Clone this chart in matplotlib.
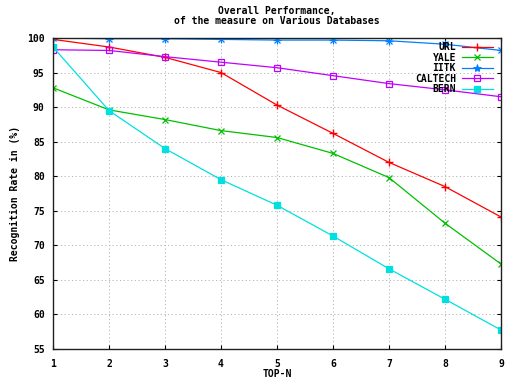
import matplotlib
matplotlib.use("Agg")
import matplotlib.pyplot as plt
from matplotlib.lines import Line2D

top_n = [1, 2, 3, 4, 5, 6, 7, 8, 9]
url = [99.8, 98.7, 97.2, 95.0, 90.3, 86.2, 82.0, 78.5, 74.1]
yale = [92.8, 89.6, 88.2, 86.6, 85.6, 83.3, 79.8, 73.2, 67.3]
iitk = [100.0, 99.9, 99.9, 99.8, 99.7, 99.7, 99.6, 99.1, 98.2]
caltech = [98.3, 98.2, 97.3, 96.5, 95.7, 94.55, 93.4, 92.5, 91.5]
bern = [98.7, 89.5, 84.0, 79.5, 75.8, 71.35, 66.6, 62.2, 57.75]

labels = ["URL", "YALE", "IITK", "CALTECH", "BERN"]
colors = ["#ff0000", "#00c000", "#0080ff", "#c000ff", "#00e0e0"]

plt.rcParams['font.family'] = ['DejaVu Sans Mono']
plt.rcParams['font.weight'] = 'bold'
fs = 7

fig = plt.figure(figsize=(5.05, 3.80), dpi=100)
ax = fig.add_axes([53/505, 31/380, 448/505, 311/380])

lw = 0.9
ax.plot(top_n, url, color=colors[0], lw=lw, marker='+', ms=6, mew=1.0, label=labels[0])
ax.plot(top_n, yale, color=colors[1], lw=lw, marker='x', ms=5, mew=0.9, label=labels[1])
ax.plot(top_n, iitk, color=colors[2], lw=lw, marker='+', ms=6, mew=0.9, label=labels[2])
ax.plot(top_n, iitk, color=colors[2], lw=0, marker='x', ms=5, mew=0.9)
ax.plot(top_n, caltech, color=colors[3], lw=lw, marker='s', ms=5, mew=0.9, mfc='none', label=labels[3])
ax.plot(top_n, bern, color=colors[4], lw=lw, marker='s', ms=5, mew=0.9, label=labels[4])

ax.set_xlim(1, 9)
ax.set_ylim(55, 100)
ax.set_xticks(top_n)
ax.set_yticks(range(55, 101, 5))
ax.tick_params(direction='in', length=3, labelsize=fs, top=True, right=True, width=0.8)
ax.tick_params(axis='x', pad=7)
ax.tick_params(axis='y', pad=6)
ax.grid(True, color='#b4b4b4', linestyle=(0, (1.2, 2.6)), linewidth=0.7)
for s in ax.spines.values():
    s.set_linewidth(1.0)
    s.set_color('#202020')

fig.text(277/505, 1 - 374/380, "TOP-N", ha='center', va='center', fontsize=fs)
fig.text(15/505, 1 - 193/380, "Recognition Rate in (%)", ha='center', va='center',
         rotation=90, fontsize=fs)
fig.text(277/505, 1 - 11/380, "Overall Performance,", ha='center', va='center', fontsize=fs)
fig.text(277/505, 1 - 21.5/380, "of the measure on Various Databases", ha='center', va='center', fontsize=fs)

handles = [
    Line2D([], [], color=colors[0], lw=lw, marker='+', ms=6, mew=1.0),
    Line2D([], [], color=colors[1], lw=lw, marker='x', ms=5, mew=0.9),
    Line2D([], [], color=colors[2], lw=lw, marker='*', ms=6, mew=0.6),
    Line2D([], [], color=colors[3], lw=lw, marker='s', ms=5, mew=0.9, mfc='none'),
    Line2D([], [], color=colors[4], lw=lw, marker='s', ms=5, mew=0.9),
]
leg = ax.legend(handles, labels, loc='upper right', bbox_to_anchor=(0.995, 1.005),
                frameon=False, fontsize=fs, markerfirst=False, handlelength=3.2,
                labelspacing=0.05, handletextpad=0.6, borderpad=0.1)
for t in leg.get_texts():
    t.set_ha('right')
leg._legend_box.align = 'right'

fig.savefig("out.png", dpi=100)
